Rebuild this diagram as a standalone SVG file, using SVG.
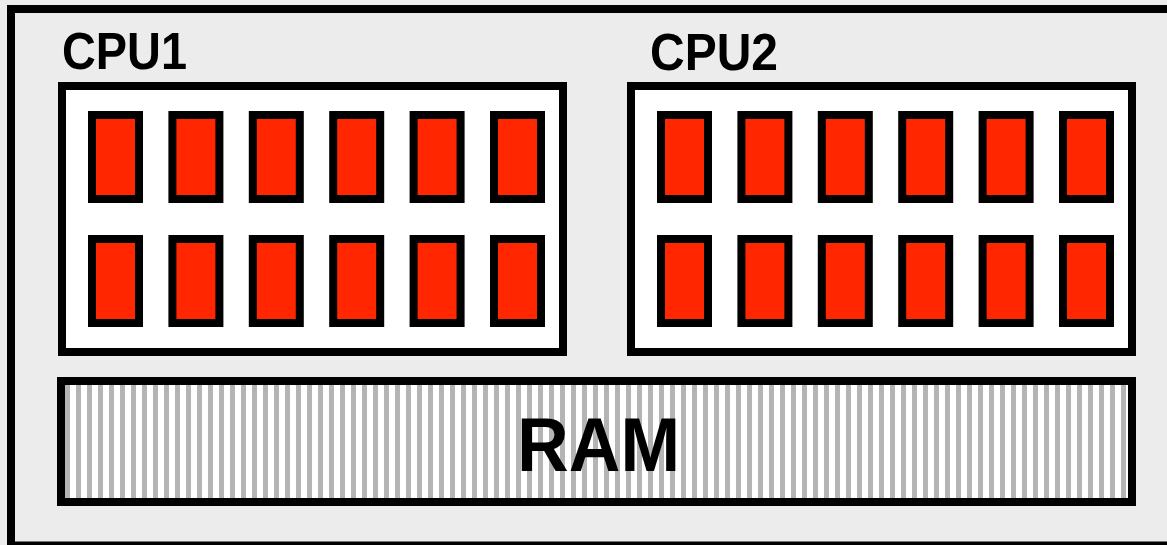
<svg xmlns="http://www.w3.org/2000/svg" width="1167" height="545" viewBox="0 0 1167 545">
<defs>
<pattern id="stripes" patternUnits="userSpaceOnUse" x="65" y="0" width="11" height="10">
<rect x="0" y="0" width="11" height="10" fill="#ffffff"/>
<rect x="0" y="0" width="5" height="10" fill="#b4b4b4"/>
</pattern>
</defs>
<style>
.frame{fill:#ececec;stroke:#000;stroke-width:8}
.cpu{fill:#fff;stroke:#000;stroke-width:8}
.core{fill:#ff2600;stroke:#000;stroke-width:8}
.ram{fill:url(#stripes);stroke:#000;stroke-width:8}
.lbl{font-family:"Comic Sans MS","Liberation Sans",sans-serif;font-weight:bold;fill:#000}
</style>
<rect x="0" y="0" width="1167" height="545" fill="#ececec"/>
<g id="board">
<rect class="frame" x="11" y="9" width="1170" height="536.5"/>
</g>
<g id="cpu1">
<text class="lbl" x="62" y="69" font-size="52" textLength="125" lengthAdjust="spacingAndGlyphs">CPU1</text>
<rect class="cpu" x="62" y="86" width="501" height="266"/>
<rect class="core" x="92" y="115" width="47" height="84"/>
<rect class="core" x="172.4" y="115" width="47" height="84"/>
<rect class="core" x="252.8" y="115" width="47" height="84"/>
<rect class="core" x="333.2" y="115" width="47" height="84"/>
<rect class="core" x="413.6" y="115" width="47" height="84"/>
<rect class="core" x="494" y="115" width="47" height="84"/>
<rect class="core" x="92" y="239" width="47" height="84"/>
<rect class="core" x="172.4" y="239" width="47" height="84"/>
<rect class="core" x="252.8" y="239" width="47" height="84"/>
<rect class="core" x="333.2" y="239" width="47" height="84"/>
<rect class="core" x="413.6" y="239" width="47" height="84"/>
<rect class="core" x="494" y="239" width="47" height="84"/>
</g>
<g id="cpu2">
<text class="lbl" x="650" y="70" font-size="52" textLength="128" lengthAdjust="spacingAndGlyphs">CPU2</text>
<rect class="cpu" x="631" y="86" width="501" height="266"/>
<rect class="core" x="661" y="115" width="47" height="84"/>
<rect class="core" x="741.4" y="115" width="47" height="84"/>
<rect class="core" x="821.8" y="115" width="47" height="84"/>
<rect class="core" x="902.2" y="115" width="47" height="84"/>
<rect class="core" x="982.6" y="115" width="47" height="84"/>
<rect class="core" x="1063" y="115" width="47" height="84"/>
<rect class="core" x="661" y="239" width="47" height="84"/>
<rect class="core" x="741.4" y="239" width="47" height="84"/>
<rect class="core" x="821.8" y="239" width="47" height="84"/>
<rect class="core" x="902.2" y="239" width="47" height="84"/>
<rect class="core" x="982.6" y="239" width="47" height="84"/>
<rect class="core" x="1063" y="239" width="47" height="84"/>
</g>
<g id="ram">
<rect class="ram" x="61" y="381" width="1071" height="121"/>
<text class="lbl" x="517" y="471" font-size="76" textLength="163" lengthAdjust="spacingAndGlyphs">RAM</text>
</g>
<g id="connectors"></g>
</svg>
